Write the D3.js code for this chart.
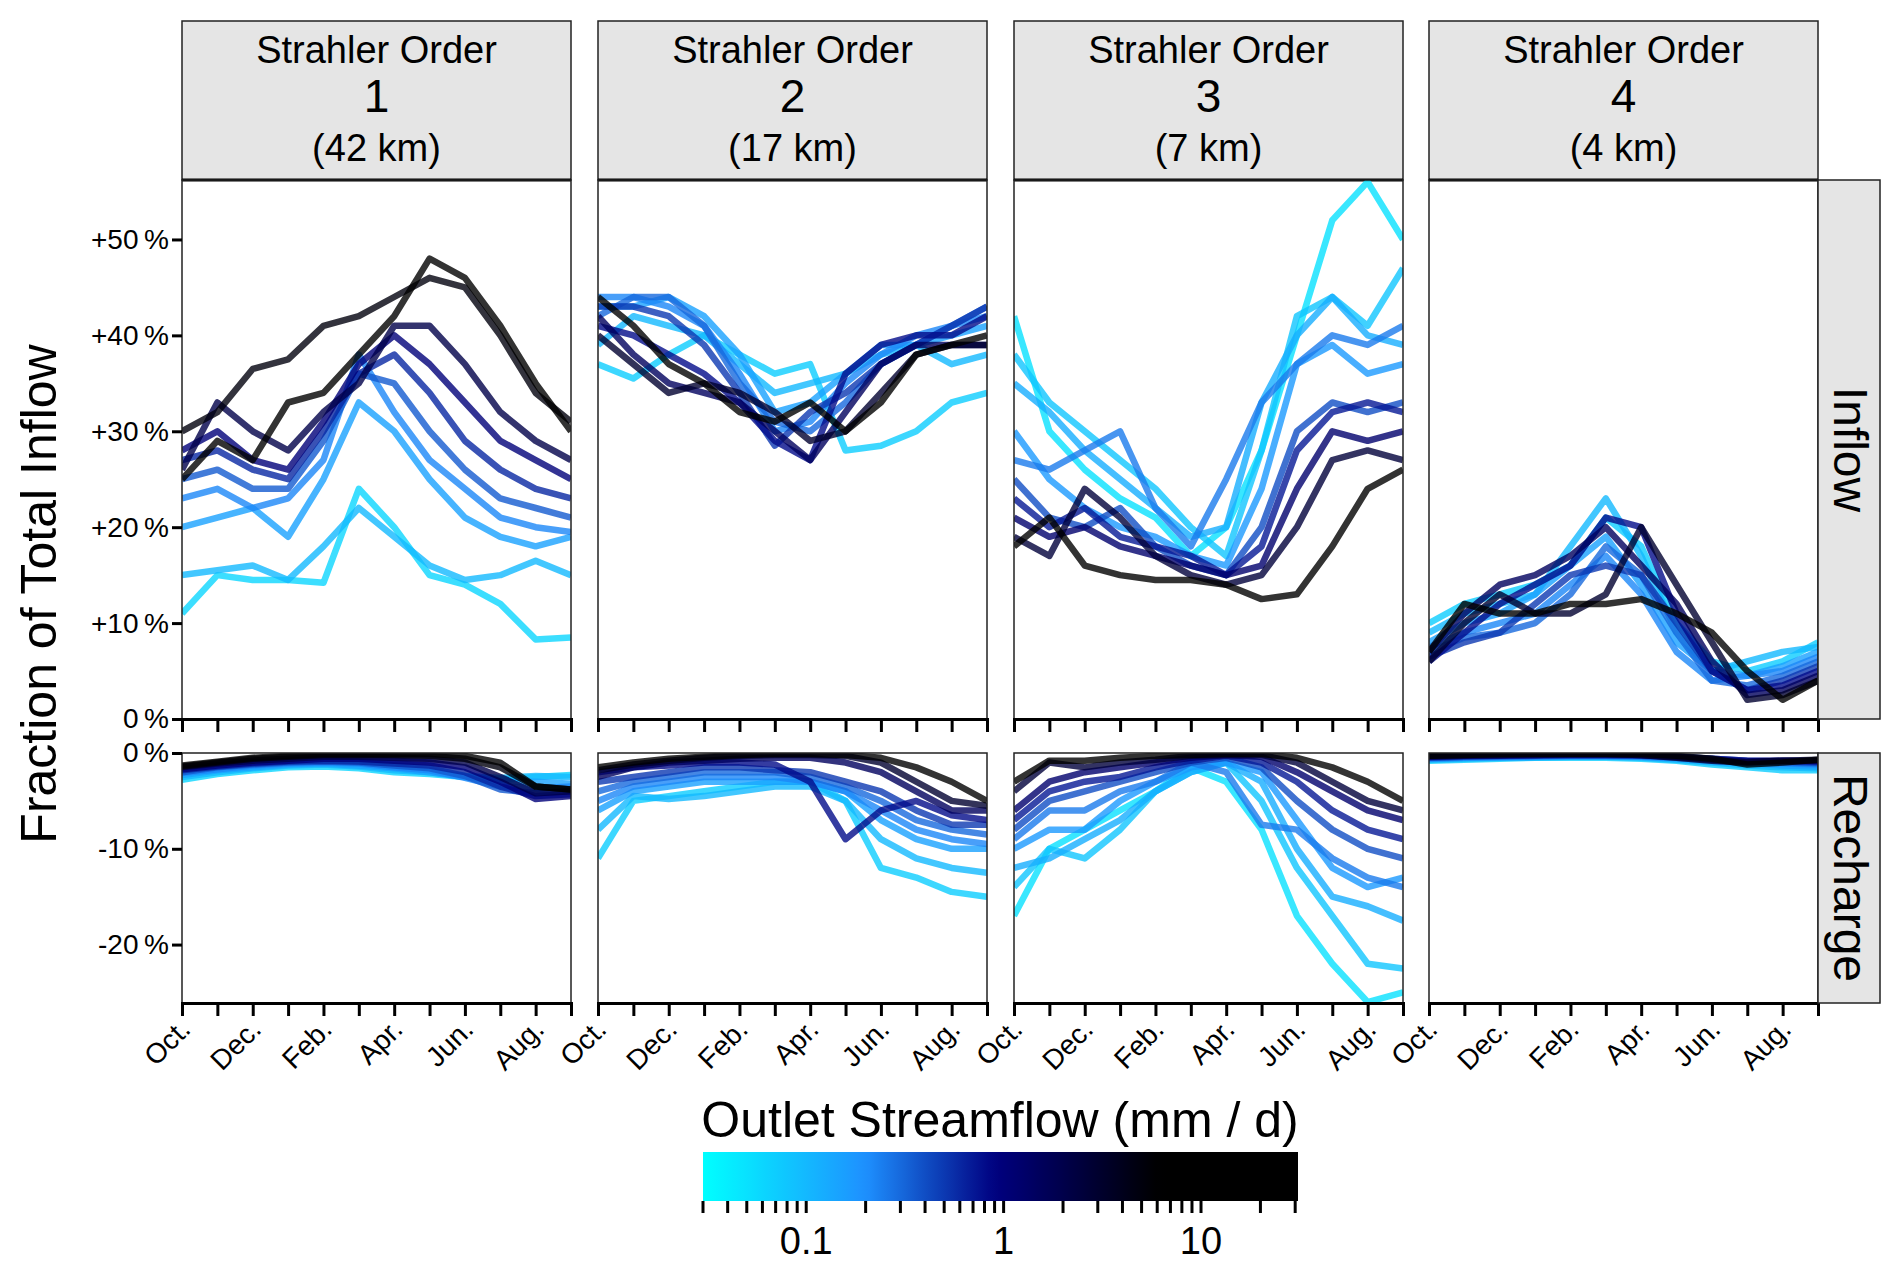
<!DOCTYPE html>
<html>
<head>
<meta charset="utf-8">
<script src="https://cdn.jsdelivr.net/npm/d3@7"></script>
<style>
  body { margin: 0; background: white; }
  svg { font-family: "Liberation Sans", Arial, sans-serif; }
</style>
</head>
<body>
<svg id="chart" width="1892" height="1268"></svg>
<script>
// months, Oct..Sep
var months = ["Oct.","Nov.","Dec.","Jan.","Feb.","Mar.","Apr.","May","Jun.","Jul.","Aug.","Sep."];
var orders = ["1","2","3","4"];
var lengths = ["(42 km)","(17 km)","(7 km)","(4 km)"];
var yTicksInflow = [0,10,20,30,40,50];
var yTicksRecharge = [0,-10,-20];
var cbarLabels = [0.1,1,10];

// outlet streamflow (mm/d) of each line, per panel
var flows1 = [0.06,0.1,0.15,0.22,0.35,0.6,1,2,5,12];
var flows2 = [0.07,0.1,0.15,0.22,0.3,0.5,0.8,1.5,3,8];
var flows3 = [0.05,0.08,0.12,0.17,0.25,0.4,0.7,1.2,2.5,6];
var flows4 = [0.07,0.1,0.15,0.22,0.3,0.5,0.8,1.5,3,8];

var inflow1 = [
  [11,15,14.5,14.5,14.2,24,20,15,14,12,8.3,8.5],
  [15,15.5,16,14.5,18,22,19,16,14.5,15,16.5,15],
  [20,21,22,19,25,33,30,25,21,19,18,19],
  [23,24,22,23,27,38,32,27,24,21,20,19.5],
  [25,26,24,24,29,36,35,30,26,23,22,21],
  [27,28,26,25,30,36,38,34,29,26,24,23],
  [28,30,27,26,31,37,40,37,33,29,27,25],
  [26,33,30,28,32,35,41,41,37,32,29,27],
  [30,32,36.5,37.5,41,42,44,46,45,40,34,31],
  [25,29,27,33,34,38,42,48,46,41,35,30]
];
var recharge1 = [
  [-2.8,-2.2,-1.8,-1.5,-1.4,-1.6,-2,-2.2,-2.5,-2.8,-2.5,-2.3],
  [-2.5,-2,-1.6,-1.3,-1.2,-1.4,-1.8,-2,-2.4,-2.6,-2.4,-2.5],
  [-2.3,-1.8,-1.5,-1.2,-1.1,-1.3,-1.6,-2,-2.5,-3,-3,-3.2],
  [-2.1,-1.7,-1.3,-1.1,-1,-1.1,-1.5,-1.8,-2.6,-3.5,-3.7,-3.5],
  [-2,-1.5,-1.2,-1,-0.9,-1,-1.3,-1.6,-2.4,-3.8,-4.2,-4],
  [-1.8,-1.4,-1.1,-0.9,-0.8,-0.9,-1.1,-1.3,-2,-3.5,-4.5,-4.3],
  [-1.7,-1.3,-1,-0.8,-0.6,-0.6,-0.8,-1,-1.5,-3,-4.8,-4.5],
  [-1.5,-1.1,-0.8,-0.6,-0.4,-0.4,-0.5,-0.6,-1,-2.5,-4.2,-4],
  [-1.4,-1,-0.6,-0.4,-0.2,-0.2,-0.2,-0.3,-0.6,-1.5,-3.5,-3.8],
  [-1.3,-0.9,-0.5,-0.3,-0.1,-0.1,-0.1,-0.1,-0.3,-1,-3.5,-3.8]
];
var inflow2 = [
  [37,35.5,38,40,38,36,37,28,28.5,30,33,34],
  [39,42,41,40,37,34,35,36,38,39,37,38],
  [43,43,44,42,38,32,33,36,39,39,40,41],
  [44,44,43,41,36,30,31,35,38,40,41,42],
  [42,44,44,41,35,31,30,33,37,39,41,43],
  [43,43,42,39,34,28.5,32,34,37,39,41,43],
  [41,40,38,36,33,29,27,36,39,40,40,42],
  [42,38,35,34,33,30,27,32,37,39,39,39],
  [40,37,34,35,34,32,29,30,34,38,39,39],
  [44,41,37,35,32,31,33,30,33,38,39,40]
];
var recharge2 = [
  [-11,-5,-4.5,-4,-3.5,-3,-3,-5,-12,-13,-14.5,-15],
  [-8,-4.5,-4.8,-4.5,-4,-3.5,-3.5,-5,-9,-11,-12,-12.5],
  [-6,-4,-3.5,-3,-3,-3,-3,-4,-7,-9,-10,-10],
  [-5,-3.5,-3,-2.5,-2.5,-2.5,-3,-4,-6,-8,-9,-9.5],
  [-4,-3,-2.5,-2,-2,-2,-2.5,-3.5,-5,-7,-8,-8.5],
  [-3,-2.5,-2,-1.5,-1.5,-1.8,-2,-3,-4,-6,-7.5,-7.5],
  [-2,-1.5,-1.3,-1,-1,-1.2,-3,-9,-6,-5,-6.5,-7],
  [-2.5,-1.5,-1,-0.8,-0.6,-0.5,-0.5,-1,-2,-4,-6,-6],
  [-1.8,-1.2,-0.8,-0.5,-0.3,-0.2,-0.2,-0.3,-1,-3,-5,-5.5],
  [-1.5,-1,-0.6,-0.4,-0.2,-0.1,-0.1,-0.2,-0.5,-1.5,-3,-5]
];
var inflow3 = [
  [42,30,26,23,21,17,20,28,40,52,56,50],
  [38,33,30,27,24,20,17,28,42,44,41,47],
  [35,32,28,25,22,19,20,33,40,44,40,39],
  [30,25,22,20,19,17,16,24,37,39,36,37],
  [27,26,28,30,22,18,25,33,37,40,39,41],
  [25,21,20,22,18,16,15,20,30,33,32,33],
  [23,20,22,19,18,17,15,18,28,32,33,32],
  [21,19,20,18,17,16,15,16,24,30,29,30],
  [19,17,24,21,17,15,14,15,20,27,28,27],
  [18,21,16,15,14.5,14.5,14,12.5,13,18,24,26]
];
var recharge3 = [
  [-17,-10,-8,-6,-4,-1.5,-3,-8,-17,-22,-26,-25],
  [-14,-10,-11,-8,-4,-2,-1,-5,-12,-17,-22,-22.5],
  [-12,-11,-9,-7,-4,-2,-1,-3,-10,-15,-16,-17.5],
  [-10,-8,-8,-5,-3,-1.5,-1,-2,-7,-12,-14,-13],
  [-9,-6,-6,-4,-3,-1,-2,-7.5,-8,-11,-13,-14],
  [-8,-5,-4,-3,-2,-1,-0.5,-1.5,-5,-8,-10,-11],
  [-7,-4,-3,-2.5,-1.5,-0.8,-0.3,-1,-3,-6,-8,-9],
  [-6,-3,-2,-1.5,-1,-0.5,-0.2,-0.4,-2,-4,-6,-7],
  [-4,-1,-1.5,-1,-0.7,-0.3,-0.2,-0.2,-1,-3,-5,-6],
  [-3,-0.8,-0.8,-0.5,-0.3,-0.2,-0.1,-0.1,-0.5,-1.5,-3,-5]
];
var inflow4 = [
  [10,12,13,14,16,21,18,10,6,5,6,8],
  [9,11,12,13,18,23,17,9,5,6,7,7.5],
  [8,10,11,13,16,19,14,8,5,4.5,5.5,7],
  [7.5,9,10,11,14,17,13,7,4,4.5,5,6.5],
  [7,8.5,9,10,13,18,15,9,4,3.5,4.5,6],
  [6.5,8,9,12,15,16,15,10,5,3,4,5.5],
  [6,9,12,14,16,21,20,11,5,3,3.5,5],
  [7,11,14,15,17,20,16,12,6,2.5,3,4.5],
  [6,10,13,11,11,13,20,14,8,2,2.5,4],
  [7,12,11,11,12,12,12.5,11,9,5,2,4]
];
var recharge4 = [
  [-0.8,-0.7,-0.6,-0.5,-0.5,-0.5,-0.6,-0.8,-1.2,-1.5,-1.8,-1.8],
  [-0.7,-0.6,-0.5,-0.5,-0.4,-0.4,-0.5,-0.7,-1,-1.3,-1.5,-1.6],
  [-0.6,-0.5,-0.5,-0.4,-0.4,-0.4,-0.4,-0.6,-0.9,-1.1,-1.3,-1.4],
  [-0.6,-0.5,-0.4,-0.4,-0.3,-0.3,-0.4,-0.5,-0.8,-1,-1.1,-1.2],
  [-0.5,-0.4,-0.4,-0.3,-0.3,-0.3,-0.3,-0.5,-0.7,-0.9,-1,-1.1],
  [-0.5,-0.4,-0.3,-0.3,-0.2,-0.2,-0.3,-0.4,-0.6,-0.8,-0.9,-1],
  [-0.4,-0.3,-0.3,-0.2,-0.2,-0.2,-0.2,-0.4,-0.6,-0.8,-0.8,-0.9],
  [-0.4,-0.3,-0.2,-0.2,-0.1,-0.1,-0.2,-0.4,-0.7,-0.9,-0.8,-0.8],
  [-0.3,-0.2,-0.2,-0.1,-0.1,-0.1,-0.2,-0.5,-0.8,-1,-0.8,-0.7],
  [-0.3,-0.2,-0.1,-0.1,-0.1,-0.1,-0.1,-0.3,-0.6,-1.2,-1,-0.7]
];

var panels = [
  {flows: flows1, inflow: inflow1, recharge: recharge1},
  {flows: flows2, inflow: inflow2, recharge: recharge2},
  {flows: flows3, inflow: inflow3, recharge: recharge3},
  {flows: flows4, inflow: inflow4, recharge: recharge4}
];

var svg = d3.select("#chart");
var panelX = [182, 598, 1014, 1429], panelW = 389;
var stripTop = 21, stripBot = 180;
var inTop = 180, inBot = 719, reTop = 753, reBot = 1003;

var color = d3.scaleLog()
  .domain([0.03, 0.2, 0.9, 6, 31])
  .range(["#00ffff", "#1e90ff", "#000080", "#000000", "#000000"])
  .interpolate(d3.interpolateRgb)
  .clamp(true);

var yIn = d3.scaleLinear().domain([0, 56.2]).range([inBot, inTop]);
var yRe = d3.scaleLinear().domain([-26.1, 0]).range([reBot, reTop]);

svg.append("defs").selectAll("clipPath")
  .data(panelX.flatMap(function(x, i) {
    return [{id: "ci" + i, x: x, y: inTop, h: inBot - inTop}, {id: "cr" + i, x: x, y: reTop, h: reBot - reTop}];
  }))
  .enter().append("clipPath").attr("id", function(d) { return d.id; })
  .append("rect").attr("x", function(d) { return d.x; }).attr("y", function(d) { return d.y; })
  .attr("width", panelW).attr("height", function(d) { return d.h; });

panels.forEach(function(p, i) {
  var x = d3.scaleLinear().domain([0, 11]).range([panelX[i], panelX[i] + panelW]);

  // strip
  var sg = svg.append("g");
  sg.append("rect").attr("x", panelX[i]).attr("y", stripTop).attr("width", panelW)
    .attr("height", stripBot - stripTop).attr("fill", "#e5e5e5").attr("stroke", "#222").attr("stroke-width", 1.5);
  sg.append("line").attr("x1", panelX[i]).attr("x2", panelX[i] + panelW).attr("y1", stripBot).attr("y2", stripBot)
    .attr("stroke", "#000").attr("stroke-width", 3);
  var cx = panelX[i] + panelW / 2;
  sg.append("text").attr("x", cx).attr("y", 63).attr("text-anchor", "middle").attr("font-size", 38).text("Strahler Order");
  sg.append("text").attr("x", cx).attr("y", 112).attr("text-anchor", "middle").attr("font-size", 46).text(orders[i]);
  sg.append("text").attr("x", cx).attr("y", 161).attr("text-anchor", "middle").attr("font-size", 38).text(lengths[i]);

  [["inflow", yIn, inTop, inBot, "ci"], ["recharge", yRe, reTop, reBot, "cr"]].forEach(function(r) {
    var key = r[0], y = r[1];
    var line = d3.line().x(function(d, j) { return x(j); }).y(function(d) { return y(d); });
    svg.append("g").attr("clip-path", "url(#" + r[4] + i + ")")
      .selectAll("path").data(p[key]).enter().append("path")
      .attr("d", line).attr("fill", "none")
      .attr("stroke", function(d, j) { return color(p.flows[j]); })
      .attr("stroke-width", 6.5).attr("stroke-opacity", 0.8).attr("stroke-linejoin", "round");
    svg.append("rect").attr("x", panelX[i]).attr("y", r[2]).attr("width", panelW).attr("height", r[3] - r[2])
      .attr("fill", "none").attr("stroke", "#222").attr("stroke-width", 1.5);
    // bottom ticks
    var ax = svg.append("g").attr("transform", "translate(0," + r[3] + ")")
      .call(d3.axisBottom(x).tickValues(d3.range(12)).tickSize(13).tickFormat(""));
    ax.select(".domain").attr("stroke-width", 3);
    ax.selectAll(".tick line").attr("stroke-width", 3);
  });

  // month labels
  svg.append("g").selectAll("text").data(d3.range(0, 12, 2)).enter().append("text")
    .attr("transform", function(j) { return "translate(" + (x(j) + 10) + "," + (reBot + 28) + ") rotate(-45)"; })
    .attr("text-anchor", "end").attr("font-size", 28).text(function(j) { return months[j]; });
});

// left y axes
function yAxis(scale, ticks) {
  var g = svg.append("g").attr("transform", "translate(" + panelX[0] + ",0)")
    .call(d3.axisLeft(scale).tickValues(ticks).tickSize(10)
      .tickFormat(function(v) { return (v > 0 ? "+" : "") + v + "\u2009%"; }));
  g.select(".domain").remove();
  g.selectAll(".tick line").attr("stroke-width", 3);
  g.selectAll(".tick text").attr("font-size", 28).attr("font-family", "Liberation Sans, Arial, sans-serif").attr("fill", "#000");
}
yAxis(yIn, yTicksInflow);
yAxis(yRe, yTicksRecharge);

// right strips
[["Inflow", inTop, inBot], ["Recharge", reTop, reBot]].forEach(function(s) {
  svg.append("rect").attr("x", 1818).attr("y", s[1]).attr("width", 62).attr("height", s[2] - s[1])
    .attr("fill", "#e5e5e5").attr("stroke", "#222").attr("stroke-width", 1.5);
  svg.append("text").attr("transform", "translate(1834," + (s[1] + s[2]) / 2 + ") rotate(90)")
    .attr("text-anchor", "middle").attr("font-size", 48).text(s[0]);
});

// y title
svg.append("text").attr("transform", "translate(56,594) rotate(-90)")
  .attr("text-anchor", "middle").attr("font-size", 50).text("Fraction of Total Inflow");

// colorbar
var cb = d3.scaleLog().domain([0.03, 31]).range([703, 1298]);
var grad = svg.select("defs").append("linearGradient").attr("id", "cbar");
d3.range(0, 1.0001, 0.02).forEach(function(t) {
  var v = cb.invert(703 + t * 595);
  grad.append("stop").attr("offset", t).attr("stop-color", color(v));
});
svg.append("text").attr("x", 1000).attr("y", 1137).attr("text-anchor", "middle").attr("font-size", 50)
  .text("Outlet Streamflow (mm / d)");
svg.append("rect").attr("x", 703).attr("y", 1152).attr("width", 595).attr("height", 49).attr("fill", "url(#cbar)");
var minor = [];
[0.01, 0.1, 1, 10].forEach(function(d) { for (var k = 1; k < 10; k++) { var v = d * k; if (v >= 0.03 && v <= 31) minor.push(v); } });
svg.append("g").selectAll("line").data(minor).enter().append("line")
  .attr("x1", function(v) { return cb(v); }).attr("x2", function(v) { return cb(v); })
  .attr("y1", 1201).attr("y2", 1213).attr("stroke", "#000").attr("stroke-width", 3);
svg.append("g").selectAll("text").data(cbarLabels).enter().append("text")
  .attr("x", function(v) { return cb(v); }).attr("y", 1254).attr("text-anchor", "middle")
  .attr("font-size", 38).text(function(v) { return v; });
</script>
</body>
</html>
